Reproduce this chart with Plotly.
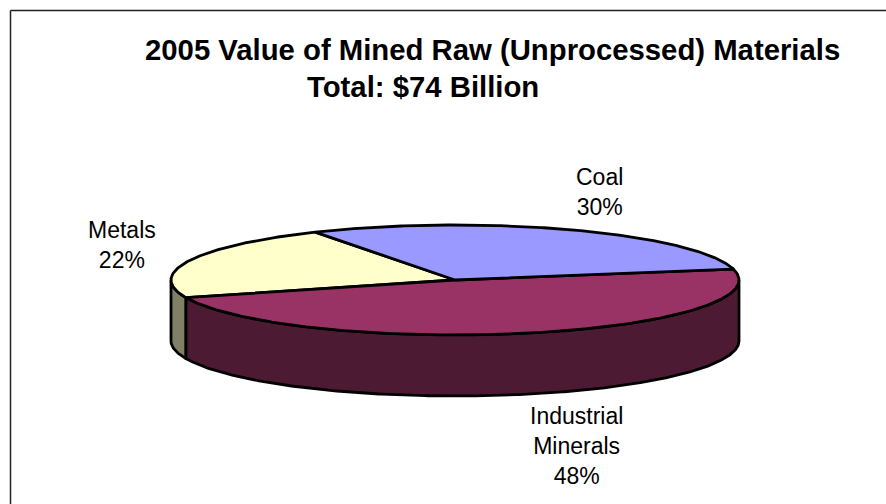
import numpy as np
import plotly.graph_objects as go

categories = ["Coal", "Metals", "Industrial<br>Minerals"]
shares = [30, 22, 48]
top_colors = ["#9999FF", "#FFFFCC", "#993366"]
side_colors = ["#4D4D80", "#808066", "#4D1A33"]
title_lines = ["2005 Value of Mined Raw (Unprocessed) Materials", "Total: $74 Billion"]

CX, CY, RX, RY, DEPTH = 455.0, 280.0, 284.0, 55.0, 61.0
START_DEG = 119.5

def pt(deg, dy=0.0):
    a = np.radians(deg)
    return CX + RX * np.cos(a), CY - RY * np.sin(a) + dy

def arc(d0, d1, dy=0.0):
    n = max(2, int(abs(d1 - d0) * 2))
    ds = np.linspace(d0, d1, n)
    return pt(ds, dy)

fig = go.Figure()
LW = 2.8

def poly(x, y, color):
    fig.add_trace(go.Scatter(x=list(x), y=list(y), mode="lines", fill="toself",
                             fillcolor=color, line=dict(color="black", width=LW),
                             hoverinfo="skip", showlegend=False))

metals_end = START_DEG + shares[1] * 3.6
ind_end = metals_end + shares[2] * 3.6
coal_end = ind_end + shares[0] * 3.6

ax, ay = arc(180, metals_end)
bx, by = arc(metals_end, 180, DEPTH)
poly(np.r_[ax, bx, ax[0]], np.r_[ay, by, ay[0]], side_colors[1])
ax, ay = arc(metals_end, 360)
bx, by = arc(360, metals_end, DEPTH)
poly(np.r_[ax, bx, ax[0]], np.r_[ay, by, ay[0]], side_colors[2])

for idx, d0, d1 in [(1, START_DEG, metals_end), (2, metals_end, ind_end), (0, ind_end, coal_end)]:
    x, y = arc(d0, d1)
    poly(np.r_[CX, x, CX], np.r_[CY, y, CY], top_colors[idx])

fig.update_xaxes(range=[0, 886], visible=False, fixedrange=True)
fig.update_yaxes(range=[504, 0], visible=False, fixedrange=True)

font = dict(family="Liberation Sans, Arial, sans-serif", color="black")
label_pos = [(599, 192), (122, 245), (576, 446)]
for name, share, (lx, ly) in zip(categories, shares, label_pos):
    fig.add_annotation(x=lx, y=ly, text=f"{name}<br>{share}%", showarrow=False,
                       xref="x", yref="y", align="center",
                       font=dict(size=23, **font))
fig.add_annotation(x=143, y=49, text=f"<b>{title_lines[0]}</b>", showarrow=False, xanchor="left",
                   font=dict(size=29.3, **font))
fig.add_annotation(x=305, y=86, text=f"<b>{title_lines[1]}</b>", showarrow=False, xanchor="left",
                   font=dict(size=29.3, **font))

fig.add_shape(type="line", x0=10.5, x1=886, y0=10.5, y1=10.5, line=dict(color="#222", width=1.5))
fig.add_shape(type="line", x0=10.5, x1=10.5, y0=10.5, y1=504, line=dict(color="#222", width=1.5))

fig.update_layout(width=886, height=504, margin=dict(l=0, r=0, t=0, b=0),
                  paper_bgcolor="white", plot_bgcolor="white", showlegend=False)
fig.write_html("out.html", config={"displayModeBar": False},
               post_script="document.body.style.margin='0';document.body.style.overflow='hidden';")
